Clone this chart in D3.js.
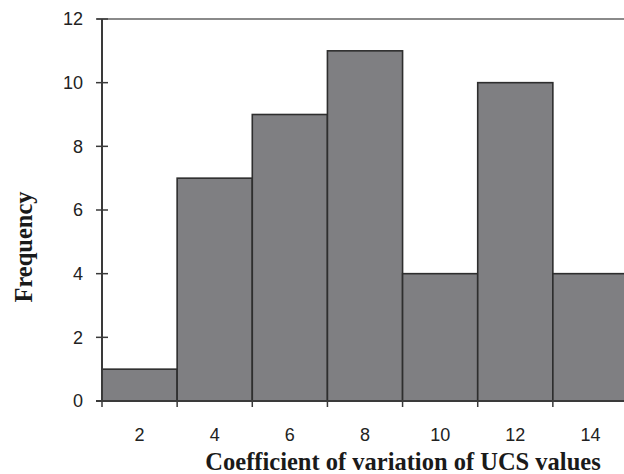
<!DOCTYPE html>
<html>
<head>
<meta charset="utf-8">
<script src="https://cdn.jsdelivr.net/npm/d3@7"></script>
<style>
  html, body { margin: 0; padding: 0; background: #fff; }
  svg { display: block; }
</style>
</head>
<body>
<svg id="chart" width="624" height="474"></svg>
<script>
const binCenters = [2, 4, 6, 8, 10, 12, 14];
const frequencies = [1, 7, 9, 11, 4, 10, 4];
const yTicks = [0, 2, 4, 6, 8, 10, 12];
const xLabels = ["2", "4", "6", "8", "10", "12", "14"];
const binEdges = [1, 3, 5, 7, 9, 11, 13, 15];

const svg = d3.select("#chart");
const x = d3.scaleLinear().domain([1, 15]).range([102, 628]);
const y = d3.scaleLinear().domain([0, 12]).range([401, 19]);
const binW = 2;

const axisColor = "#3a3a3a";

// top border line
svg.append("line")
  .attr("x1", 97).attr("x2", 624)
  .attr("y1", y(12)).attr("y2", y(12))
  .attr("stroke", "#8a8a8a").attr("stroke-width", 2);

// bars
svg.append("g").selectAll("rect")
  .data(binCenters)
  .join("rect")
  .attr("x", (d) => x(d - binW / 2))
  .attr("y", (d, i) => y(frequencies[i]))
  .attr("width", (d) => x(d + binW / 2) - x(d - binW / 2))
  .attr("height", (d, i) => y(0) - y(frequencies[i]))
  .attr("fill", "#7f7f82")
  .attr("stroke", "#2e2e2e")
  .attr("stroke-width", 1.6);

// y axis
const yAxis = d3.axisLeft(y).tickValues(yTicks).tickSize(0).tickPadding(19);
const gy = svg.append("g").attr("transform", "translate(102,0)").call(yAxis);
gy.select(".domain").remove();
gy.selectAll("text")
  .attr("font-family", "Liberation Sans, Arial, sans-serif")
  .attr("font-size", 18).attr("fill", "#222");
svg.append("line").attr("x1", 102).attr("x2", 102)
  .attr("y1", y(12)).attr("y2", y(0))
  .attr("stroke", axisColor).attr("stroke-width", 2);
svg.append("g").selectAll("line")
  .data(yTicks).join("line")
  .attr("x1", 96).attr("x2", 108)
  .attr("y1", (d) => y(d)).attr("y2", (d) => y(d))
  .attr("stroke", axisColor).attr("stroke-width", 1.5);

// x axis
svg.append("line").attr("x1", 96).attr("x2", 624)
  .attr("y1", y(0)).attr("y2", y(0))
  .attr("stroke", axisColor).attr("stroke-width", 2);
svg.append("g").selectAll("line")
  .data(binEdges).join("line")
  .attr("x1", (d) => x(d)).attr("x2", (d) => x(d))
  .attr("y1", y(0)).attr("y2", y(0) + 6)
  .attr("stroke", axisColor).attr("stroke-width", 1.5);
svg.append("g").selectAll("text")
  .data(binCenters).join("text")
  .attr("x", (d) => x(d))
  .attr("y", 441)
  .attr("text-anchor", "middle")
  .attr("font-family", "Liberation Sans, Arial, sans-serif")
  .attr("font-size", 18).attr("fill", "#222")
  .text((d, i) => xLabels[i]);

// axis titles
svg.append("text")
  .attr("x", 403).attr("y", 470)
  .attr("text-anchor", "middle")
  .attr("font-family", "Liberation Serif, Times New Roman, serif")
  .attr("font-weight", "bold")
  .attr("font-size", 24.5).attr("fill", "#1a1a1a")
  .text("Coefficient of variation of UCS values");

svg.append("text")
  .attr("transform", "translate(32,247) rotate(-90)")
  .attr("text-anchor", "middle")
  .attr("font-family", "Liberation Serif, Times New Roman, serif")
  .attr("font-weight", "bold")
  .attr("font-size", 24.5).attr("fill", "#1a1a1a")
  .text("Frequency");
</script>
</body>
</html>
